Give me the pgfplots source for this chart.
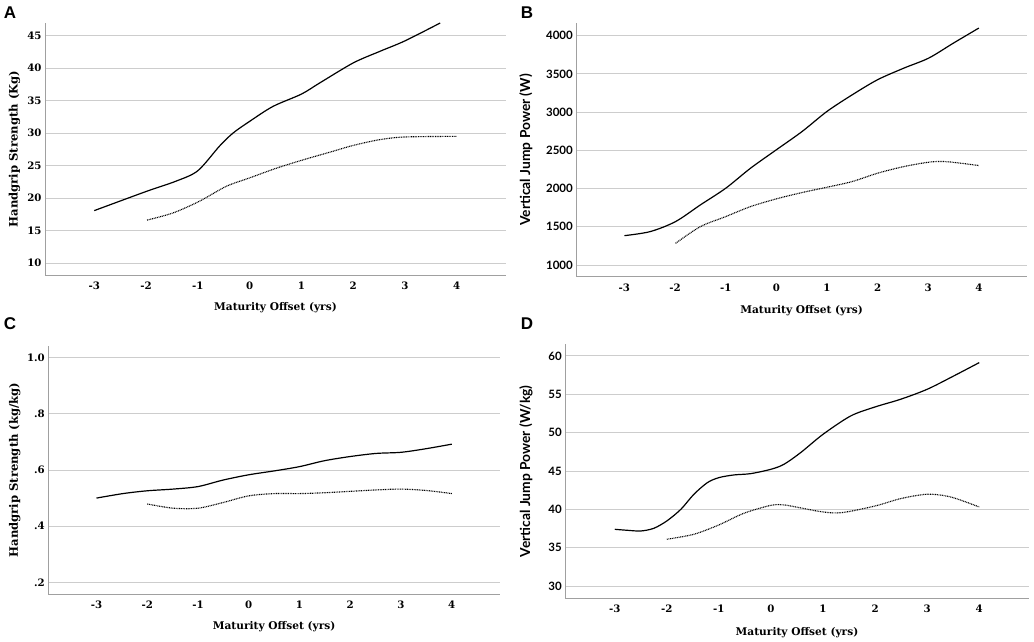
\documentclass[border=0pt]{standalone}
\usepackage{fontspec}
\setmainfont{DejaVu Serif}
\newfontfamily\sansf{Lato}
\newfontfamily\letterf{Liberation Sans}
\usepackage{pgfplots}
\pgfplotsset{compat=1.18}
\definecolor{gridc}{RGB}{205,205,205}
\definecolor{axc}{RGB}{160,160,160}
\newcommand{\tickf}{\fontsize{10.2pt}{11pt}\selectfont\bfseries}
\newcommand{\labf}{\fontsize{10.6pt}{12pt}\selectfont\bfseries}
\newcommand{\ylabf}{\fontsize{11.6pt}{13pt}\selectfont\bfseries}
\newcommand{\stickf}{\sansf\fontsize{11.5pt}{12pt}\selectfont\bfseries}
\newcommand{\slabf}{\sansf\fontsize{13.8pt}{15pt}\selectfont\bfseries}
\pgfplotsset{
  panel/.style={
    scale only axis,
    anchor=south west,
    axis x line*=bottom,
    axis y line*=left,
    axis line style={axc, line width=0.9pt},
    ymajorgrids,
    grid style={gridc, line width=0.9pt},
    major tick length=0pt,
    xmin=-3.95, xmax=4.95,
    xtick={-3,-2,-1,0,1,2,3,4},
    xticklabels={-3,-2,-1,0,1,2,3,4},
    xticklabel style={font=\tickf, yshift=-3.5pt},
    yticklabel style={font=\tickf},
    xlabel={Maturity Offset (yrs)},
    xlabel style={font=\labf, at={(axis description cs:0.5,-0.13)}, anchor=center},
    ylabel style={font=\ylabf, at={(axis description cs:-0.066,0.5)}, anchor=center},
    clip=false,
  },
  solidc/.style={black, line width=1.2pt, smooth, no markers},
  dotc/.style={black, line width=1.15pt, smooth, no markers, dash pattern=on 0.9pt off 0.8pt},
}
\begin{document}
\begin{tikzpicture}
\path[use as bounding box] (0pt,0pt) rectangle (1034pt,642pt);
\node[font=\letterf\fontsize{17pt}{18pt}\selectfont\bfseries, anchor=center] at (10pt,629pt) {A};
\node[font=\letterf\fontsize{17pt}{18pt}\selectfont\bfseries, anchor=center] at (527pt,629pt) {B};
\node[font=\letterf\fontsize{17pt}{18pt}\selectfont\bfseries, anchor=center] at (10pt,318pt) {C};
\node[font=\letterf\fontsize{17pt}{18pt}\selectfont\bfseries, anchor=center] at (527pt,318pt) {D};

% Panel A
\begin{axis}[panel, at={(45pt,367pt)}, width=461pt, height=252pt,
  ymin=8.15, ymax=46.95,
  ytick={10,15,20,25,30,35,40,45},
  yticklabels={10,15,20,25,30,35,40,45},
  ylabel={Handgrip Strength (Kg)}]
\addplot[solidc] coordinates {
(-3,18.06) (-2,21.0) (-1.42,22.6) (-1,24.2) (-0.58,28.0) (-0.32,30.0) (0,31.8) (0.45,34.1) (1,36.0) (1.35,37.7) (2,40.8) (2.52,42.6) (3,44.2) (3.68,46.95)};
\addplot[dotc] coordinates {
(-1.98,16.6) (-1.48,17.7) (-0.97,19.5) (-0.45,21.8) (0,23.1) (0.52,24.6) (1,25.8) (1.61,27.2) (2,28.1) (2.52,29.0) (3,29.4) (4,29.5)};
\end{axis}

% Panel B
\begin{axis}[panel, at={(576.3pt,365.3pt)}, width=450.7pt, height=253.7pt,
  ymin=847, ymax=4166,
  ytick={1000,1500,2000,2500,3000,3500,4000},
  yticklabels={1000,1500,2000,2500,3000,3500,4000},
  yticklabel style={font=\stickf},
  ylabel style={font=\slabf, at={(axis description cs:-0.112,0.5)}},
  xlabel style={at={(axis description cs:0.5,-0.135)}},
  ylabel={Vertical Jump Power (W)}]
\addplot[solidc] coordinates {
(-3,1384) (-2.49,1437) (-1.99,1568) (-1.5,1786) (-1.0,2004) (-0.51,2266) (0,2507) (0.51,2747) (1.0,3009) (1.5,3227) (2,3424) (2.52,3576) (3.01,3707) (3.5,3904) (4,4100)};
\addplot[dotc] coordinates {
(-1.99,1284) (-1.5,1502) (-1,1633) (-0.51,1764) (0,1865) (0.51,1948) (1,2017) (1.5,2092) (2,2201) (2.52,2288) (3.01,2345) (3.3,2354) (3.64,2332) (4,2301)};
\end{axis}

% Panel C
\begin{axis}[panel, at={(48.3pt,48pt)}, width=451.7pt, height=248pt,
  ymin=0.1585, ymax=1.0415,
  ytick={0.2,0.4,0.6,0.8,1.0},
  yticklabels={.2,.4,.6,.8,1.0},
  ylabel style={at={(axis description cs:-0.074,0.5)}},
  ylabel={Handgrip Strength (kg/kg)}]
\addplot[solidc] coordinates {
(-3,0.500) (-2.48,0.516) (-2,0.526) (-1.49,0.532) (-1,0.541) (-0.51,0.564) (0,0.583) (0.51,0.597) (1,0.612) (1.49,0.633) (2,0.648) (2.51,0.659) (3,0.663) (3.5,0.676) (4,0.692)};
\addplot[dotc] coordinates {
(-2,0.479) (-1.49,0.464) (-1,0.464) (-0.51,0.484) (0,0.508) (0.51,0.516) (1,0.516) (1.49,0.519) (2,0.524) (2.51,0.529) (3,0.532) (3.5,0.527) (4,0.516)};
\end{axis}

% Panel D
\begin{axis}[panel, at={(565.3pt,43.7pt)}, width=463.4pt, height=254pt,
  ymin=28.39, ymax=61.52,
  ytick={30,35,40,45,50,55,60},
  yticklabels={30,35,40,45,50,55,60},
  yticklabel style={font=\stickf},
  ylabel style={font=\slabf, at={(axis description cs:-0.085,0.5)}},
  xlabel style={at={(axis description cs:0.5,-0.135)}},
  ylabel={Vertical Jump Power (W/kg)}]
\addplot[solidc] coordinates {
(-3,37.39) (-2.76,37.26) (-2.5,37.17) (-2.25,37.52) (-2,38.48) (-1.73,40.0) (-1.48,41.96) (-1.22,43.48) (-1,44.13) (-0.71,44.48) (-0.39,44.65) (0,45.22) (0.25,45.87) (0.57,47.39) (1,49.78) (1.53,52.17) (2,53.35) (2.49,54.35) (3,55.65) (3.51,57.39) (4,59.13)};
\addplot[dotc] coordinates {
(-2,36.09) (-1.48,36.74) (-1,37.96) (-0.52,39.48) (0,40.52) (0.25,40.57) (0.54,40.22) (1,39.65) (1.37,39.57) (2,40.43) (2.49,41.39) (3,41.96) (3.45,41.61) (4,40.3)};
\end{axis}
\end{tikzpicture}
\end{document}
